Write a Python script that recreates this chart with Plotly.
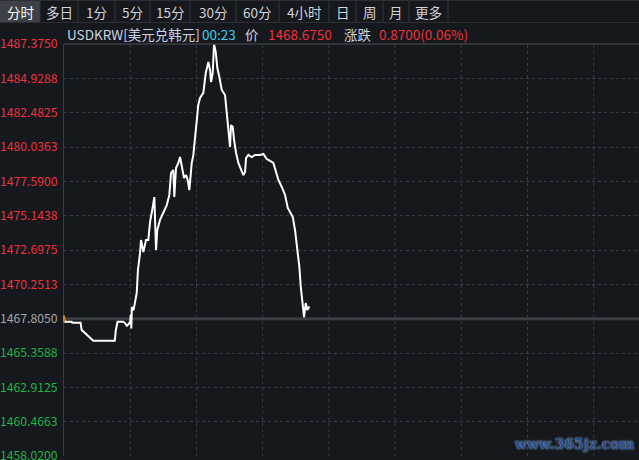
import plotly.graph_objects as go

# ---------------- data ----------------
symbol = "USDKRW[美元兑韩元]"
last_time = "00:23"
last_price = "1468.6750"
change_text = "0.8700(0.06%)"
prev_close = 1467.805

# minutes since session start
minutes = [0, 1, 14, 15, 30, 32, 36, 40, 44, 48, 53, 92, 94, 97, 107, 110, 114, 118, 120,
           121, 122, 123, 126, 131.8, 134, 137.8, 139.6, 143.8, 148.6, 152.8, 155.9, 160.8,
           163.7, 166.8, 169.1, 174, 180, 186.2, 190.9, 194, 198.1, 199.9, 203, 207.2, 210.3,
           213.4, 217.5, 221.2, 224.2, 227.1, 231.5, 234.4, 237.5, 240.5, 243.4, 246.5, 252.5,
           256.9, 261.6, 264.7, 266.5, 269.5, 271.9, 275, 277.9, 281.5, 285.9, 291.8, 294.9,
           297.8, 300.9, 302.7, 305.8, 308.2, 311.8, 316, 322.1, 325, 328.1, 329.9, 334.1,
           340.2, 346.2, 355.3, 361.3, 367.4, 373.4, 379.4, 384.3, 388.5, 394.6, 400.6, 405.5,
           409.7, 414.6, 418.7, 422.9, 426.5, 429.1, 432.7, 435, 438.1, 441, 444.6]
prices = [1467.99, 1467.59, 1467.59, 1467.52, 1467.52, 1466.99, 1466.85, 1466.70, 1466.57,
          1466.43, 1466.24, 1466.24, 1467.00, 1467.59, 1467.59, 1467.52, 1467.30, 1467.45,
          1467.62, 1468.10, 1467.10, 1468.64, 1468.40, 1469.63, 1471.27, 1472.49, 1473.41,
          1472.55, 1473.41, 1473.41, 1474.69, 1475.76, 1476.47, 1472.70, 1474.12, 1474.84,
          1475.33, 1475.90, 1476.62, 1478.18, 1478.40, 1476.47, 1478.54, 1478.90, 1479.32,
          1478.54, 1477.83, 1478.04, 1477.69, 1476.97, 1478.90, 1479.47, 1480.54, 1481.96,
          1483.03, 1483.53, 1483.89, 1485.31, 1486.09, 1485.52, 1484.67, 1485.31, 1487.375,
          1486.80, 1485.66, 1485.02, 1484.10, 1483.74, 1482.53, 1481.75, 1480.04, 1481.60,
          1481.46, 1480.54, 1479.61, 1478.90, 1478.25, 1478.04, 1478.25, 1479.25, 1479.47,
          1479.32, 1479.47, 1479.47, 1479.54, 1479.18, 1479.04, 1478.90, 1478.25, 1477.69,
          1477.19, 1476.62, 1475.69, 1475.41, 1475.05, 1474.12, 1472.70, 1471.49, 1470.06,
          1468.64, 1467.92, 1468.92, 1468.42, 1468.675]

y_ticks = [1487.3750, 1484.9288, 1482.4825, 1480.0363, 1477.5900, 1475.1438, 1472.6975,
           1470.2513, 1467.8050, 1465.3588, 1462.9125, 1460.4663, 1458.0200]
y_tick_labels = ["1487.3750", "1484.9288", "1482.4825", "1480.0363", "1477.5900", "1475.1438",
                 "1472.6975", "1470.2513", "1467.8050", "1465.3588", "1462.9125", "1460.4663",
                 "1458.0200"]
x_grid = [120, 240, 360, 480, 600, 720, 840, 960]
x_range = [0, 1042]

toolbar_labels = ["分时", "多日", "1分", "5分", "15分", "30分", "60分", "4小时", "日", "周", "月", "更多"]

# ---------------- style ----------------
BG = "#15181d"
RED = "#f0323c"
GREEN = "#22b444"
GRAYTXT = "#a8a8a8"
GRID = "#3a3e46"
FONT = "Noto Sans CJK SC, Noto Sans, sans-serif"

W, H = 639, 460
ML, MR, MT, MB = 64, 0, 44, 4
PW, PH = W - ML - MR, H - MT - MB


def px_x(px):
    return (px - ML) / PW


def px_y(py):
    return (H - MB - py) / PH


def colored(v, txt):
    if abs(v - prev_close) < 1e-6:
        c = GRAYTXT
    elif v > prev_close:
        c = RED
    else:
        c = GREEN
    return f'<span style="color:{c}">{txt}</span>'


fig = go.Figure()
fig.add_trace(go.Scatter(x=minutes, y=prices, mode="lines",
                         line=dict(color="#ffffff", width=2), hoverinfo="skip",
                         cliponaxis=False))

shapes = []
for g in x_grid:
    shapes.append(dict(type="line", xref="x", yref="paper", x0=g, x1=g, y0=0, y1=1,
                       line=dict(color=GRID, width=1, dash="dot"), layer="below"))
shapes.append(dict(type="line", xref="paper", yref="y", x0=0, x1=1, y0=prev_close, y1=prev_close,
                   line=dict(color="#3c3d42", width=3), layer="below"))
shapes.append(dict(type="line", xref="paper", yref="paper", x0=0, x1=1, y0=1, y1=1,
                   line=dict(color="#3a3c42", width=1.5)))
shapes.append(dict(type="rect", xref="paper", yref="y", x0=px_x(63), x1=px_x(65),
                   y0=prev_close - 0.25, y1=prev_close + 0.25,
                   fillcolor="#c8822a", line=dict(width=0)))

# toolbar
edges = [0, 40, 78, 115, 150, 190, 236, 279, 329, 356, 383, 409, 448]
shapes.append(dict(type="rect", xref="paper", yref="paper", x0=px_x(0), x1=px_x(40),
                   y0=px_y(22), y1=px_y(1), fillcolor="#3d4046", line=dict(width=0),
                   layer="below"))
for e in edges[1:]:
    shapes.append(dict(type="line", xref="paper", yref="paper", x0=px_x(e), x1=px_x(e),
                       y0=px_y(22), y1=px_y(1), line=dict(color="#33363c", width=1)))
shapes.append(dict(type="line", xref="paper", yref="paper", x0=px_x(0), x1=px_x(639),
                   y0=px_y(22.5), y1=px_y(22.5), line=dict(color="#2c2f35", width=1)))
shapes.append(dict(type="line", xref="paper", yref="paper", x0=px_x(0), x1=px_x(639),
                   y0=px_y(0.5), y1=px_y(0.5), line=dict(color="#2c2f35", width=1)))

annotations = []
for i, lab in enumerate(toolbar_labels):
    cx = (edges[i] + edges[i + 1]) / 2
    annotations.append(dict(xref="paper", yref="paper", x=px_x(cx), y=px_y(12),
                            text=lab, showarrow=False, xanchor="center", yanchor="middle",
                            font=dict(family=FONT, size=13.5,
                                      color="#ffffff" if i == 0 else "#d2d4d8")))

header = [(65, symbol, "#c9d3e3"), (200, last_time, "#3ccfee"), (243, "价", "#c9d3e3"),
          (266, last_price, RED), (342, "涨跌", "#c9d3e3"), (377, change_text, RED)]
for x0, t, c in header:
    annotations.append(dict(xref="paper", yref="paper", x=px_x(x0), y=px_y(34), text=t,
                            showarrow=False, xanchor="left", yanchor="middle",
                            font=dict(family=FONT, size=13.5, color=c)))

annotations.append(dict(xref="paper", yref="paper", x=px_x(574), y=px_y(444),
                        text="<b>www.365jz.com</b>", showarrow=False,
                        xanchor="center", yanchor="middle",
                        font=dict(family="DejaVu Serif", size=14, color="#24508f",
                                  shadow="0px 0px 2px #b8c4d4")))

fig.update_layout(
    width=W, height=H,
    margin=dict(l=ML, r=MR, t=MT, b=MB, pad=0, autoexpand=False),
    paper_bgcolor=BG, plot_bgcolor=BG,
    showlegend=False,
    shapes=shapes,
    annotations=annotations,
    xaxis=dict(range=x_range, showgrid=False, zeroline=False, showticklabels=False,
               showline=False, fixedrange=True, automargin=False),
    yaxis=dict(range=[y_ticks[-1], y_ticks[0]], tickmode="array", tickvals=y_ticks,
               ticktext=[colored(v, t) for v, t in zip(y_ticks, y_tick_labels)],
               showgrid=True, gridcolor=GRID, griddash="dot", gridwidth=1,
               zeroline=False, showline=True, linecolor="#3a3c42", linewidth=1,
               ticks="", ticklabelstandoff=3, automargin=False,
               ticklabeloverflow="allow",
               tickfont=dict(family=FONT, size=12.2, color=GRAYTXT), fixedrange=True),
)

fig.write_html(
    "out.html",
    config={"displayModeBar": False},
    post_script="document.body.style.margin='0';document.body.style.background='#15181d';",
)
